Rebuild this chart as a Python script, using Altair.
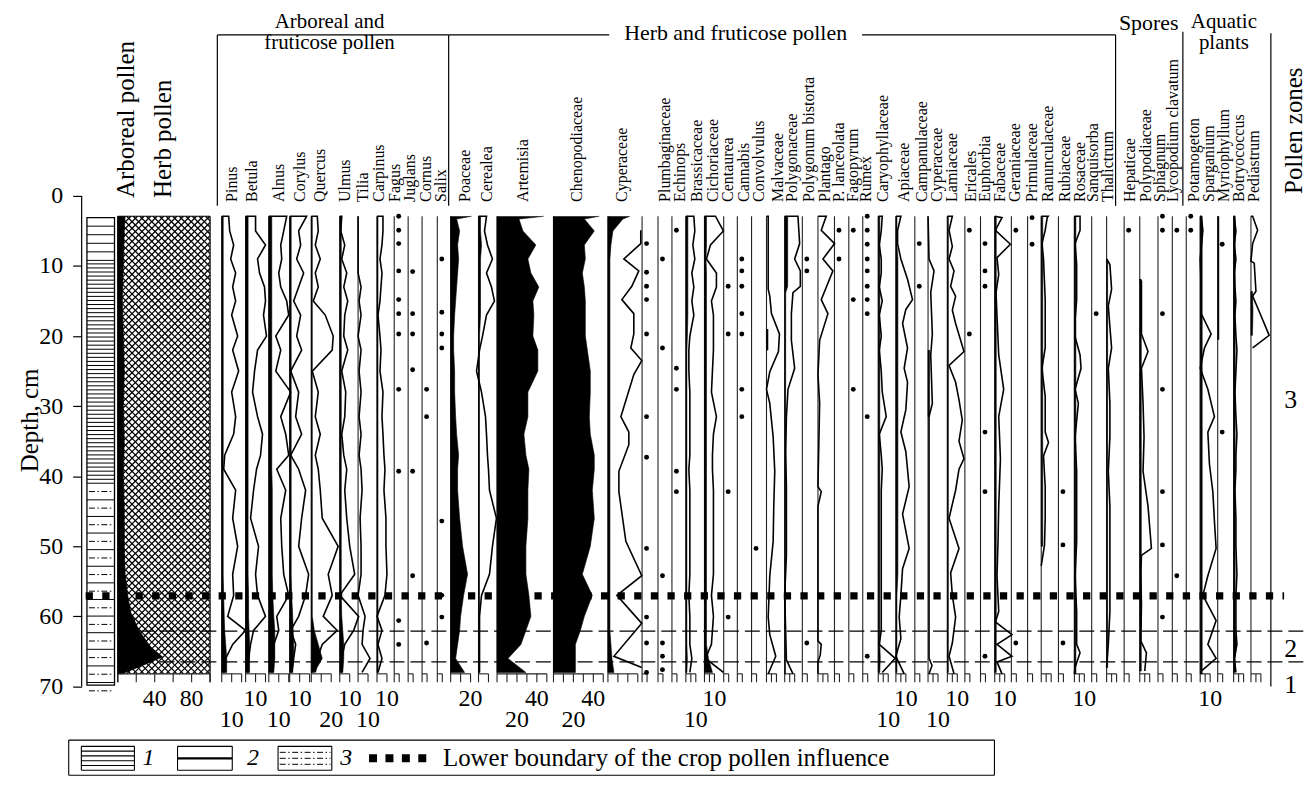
import altair as alt
import numpy as np
import pandas as pd

FONT = "Liberation Serif"

# ====================== values ======================
# common sample depths (cm)
G = [2.9, 5, 7, 9, 11, 13, 15, 17, 20, 22, 25, 28, 31.5, 34, 37, 39, 42, 46, 50, 54, 57, 60, 62, 64, 66, 68]
GF = [2.9, 3.3, 5, 7, 9, 11, 13, 15, 17, 20, 22, 25, 28, 31.5, 34, 37, 39, 42, 46, 50, 54, 57, 60, 62, 64, 66, 68]

# arboreal pollen sum (%), the rest is herb pollen
AP_DEPTH = [2.9, 5, 10, 15, 20, 25, 30, 35, 40, 45, 50, 54, 57, 59.4, 62, 64.4, 65.8, 67, 68.2]
AP_VALUE = [8, 7, 6, 5, 6, 7, 6, 7, 6, 7, 7, 8, 10.8, 14, 23, 36, 48.6, 27, 5]

# lithology units
LITHO_TOP = [3.1, 9.7, 41.0]
LITHO_BOTTOM = [9.7, 41.0, 69.8]
LITHO_TYPE = [2, 1, 3]

CROP_BOUNDARY = 57.06
ZONE_BOUNDS = [62.1, 66.5]
ZONE_NAMES = ["3", "2", "1"]

# ---- curves (exaggerated outline), % ----
PINUS = [7, 8, 12, 9, 14, 11, 14, 10, 16, 11, 17, 10, 14, 12, 3, 2, 14, 11, 16, 11, 12, 6, 24, 11, 4, 2]
BETULA = [10, 10, 20, 12, 14, 19, 20, 18, 21, 12, 9, 7, 12, 17, 15, 11, 8, 5, 13, 10, 12, 20, 8, 5, 3, 2]
ALNUS = [18, 15, 12, 13, 10, 12, 18, 20, 7, 12, 7, 22, 12, 17, 20, 8, 17, 12, 13, 15, 20, 8, 10, 5, 5, 3]
CORYLUS = [17, 9, 11, 7, 14, 9, 4, 11, 7, 12, 1, 9, 6, 12, 1, 9, 16, 12, 9, 19, 16, 9, 1, 6, 4, 2]
QUERCUS = [6, 7, 4, 9, 4, 7, 2, 14, 22, 21, 1, 7, 4, 9, 4, 7, 9, 11, 27, 17, 21, 12, 26, 11, 6, 4]
ULMUS = [2, 1, 5, 2, 7, 4, 8, 5, 4, 8, 2, 6, 5, 2, 4, 7, 5, 7, 10, 15, 0, 19, 14, 5, 2, 2]
TILIA = [0, 0, 0, 0, 0, 3, 1, 3, 0, 3, 1, 3, 1, 3, 1, 3, 4, 2, 3, 3, 0, 7, 5, 4, 12, 4]
CARPINUS = [6, 6, 5, 3, 5, 4, 3, 1, 3, 4, 3, 6, 5, 6, 7, 8, 7, 9, 9, 10, 8, 0, 5, 1, 5, 1]
CEREALEA = [8, 6, 9, 14, 8, 13, 16, 8, 4, 1, -2, 3, 7, 8, 9, 10, 11, 18, 14, 11, 3, 1, 1, 1, 1, 1]
CYPERACEAE_D = [4.9, 6.8, 9, 10.7, 12.9, 14.8, 16.8, 19.7, 21.7, 23.5, 25.5, 31.5, 33.7, 35.5, 39.3, 42.2,
                49.3, 54.2, 57, 61, 65.7, 67.3]
CYPERACEAE = [33, 33, 16, 31, 24, 14, 26, 26, 23, 34, 26, 13, 21, 21, 11, 11, 18, 34, 9, 34, 6, 34]
BRASSICACEAE = [8, 9, 7, 9, 6, 8, 6, 8, 4, 3, 3, 4, 4, 4, 4, 3, 4, 4, 4, 4, 3, 4, 4, 4, 6, 4]
CICHORIACEAE = [11, 19, 6, 2, 12, 12, 7, 9, 9, 9, 8, 7, 12, 9, 8, 8, 9, 9, 9, 9, 7, 9, 8, 7, 1, 19]
MALVACEAE_D = [2.9, 13.3, 14.3, 16.8, 19.7, 22.2, 25.1, 27.6, 29.6, 34.4, 39.3, 44.3, 49.3, 54.2, 60.1,
               62.6, 65.7, 68.2]
MALVACEAE = [1.7, 1.7, 3.3, 5, 13, 12, 3.3, 0, 3.3, 6.7, 8.3, 7.3, 6.7, 3.3, 1.7, 3.3, 9.3, 1.7]
POLYGONACEAE_D = [2.9, 6.8, 9, 10.7, 12.9, 13.8, 16.8, 20.6, 24.6, 27.6, 31.5, 36.5, 41.5, 46.4, 51.3,
                  57, 66.2, 68.2]
POLYGONACEAE = [13.3, 15, 10, 15.7, 15.7, 8.3, 6.7, 6.7, 10, 3.3, 1.7, 1, 1.7, 1.7, 1.7, 0, 1.7, 8.3]
PLANTAGO_D = [2.9, 4.9, 6.8, 9, 10.7, 14.8, 16.8, 20.6, 25.5, 29.6, 41.5, 42.2, 44.3, 63.5, 64, 65.5,
              66.5, 68.2]
PLANTAGO = [8.3, 3.3, 16.7, 5, 15, 3.3, 10, 1.7, 0, 1.7, 0, 3.3, 0, 0, 3.3, 2.3, 0, 0]
CARYOPHYLLACEAE = [4, 3, 1, 3, 3, 1, 4, 1, 3, 1, 3, 4, 8, 1, 3, 4, 3, 3, 3, 3, 3, 3, 3, 1, 17, 4]
APIACEAE_D = [2.9, 4.9, 6.8, 9, 11.9, 14.8, 16.2, 18.2, 21.7, 24.6, 26.6, 30.5, 33.7, 36.5, 41.5, 45.4,
              50.3, 53.2, 57, 60.1, 63.2, 65.7, 68.2]
APIACEAE = [5, 1.7, 1.7, 5, 11.7, 16.7, 10, 6.7, 11.7, 8.3, 11.7, 10, 5, 10, 13.3, 6.7, 13.3, 6.7, 5,
            3.3, 5, 0, 8.3]
CYPERACEAE2_D = [2.9, 9, 10.7, 13.8, 19.7, 22.7, 29.6, 31.5, 66, 67, 68.2]
CYPERACEAE2 = [0, 1, 6, 2.7, 4.3, 2.7, 4.3, 1, 1, 4, 1]
LAMIACEAE_D = [2.9, 4.9, 7.2, 9, 10.7, 12.9, 14.3, 16.3, 18.2, 22.2, 24.2, 26.6, 29.1, 32, 35, 37.5,
               39, 42, 46, 50.3, 53.8, 57, 60.1, 63.8, 65.7, 68.2]
LAMIACEAE = [5, 1.7, 5, 1.7, 6.7, 3.3, 8.3, 5, 8.3, 16.7, 1.7, 8.3, 11.7, 15, 11.7, 16.7, 11.7, 8.3,
             1.7, 11.7, 3.3, 5, 8.3, 5, 1.7, 6.7]
FABACEAE_D = [2.9, 3.1, 4.9, 6.9, 8.8, 11.2, 13.8, 17.2, 22.7, 27.6, 31.5, 37.5, 44.3, 49.3, 54.2,
              59.3, 60.8, 62.6, 64, 65.7, 66.5, 68.2]
FABACEAE = [0, 7.3, 0.7, 15.7, 2.3, 4, 1.3, 2.3, 4, 9, 4, 5.7, 4, 3.3, 2.3, 4, 0.7, 17.3, 2.3, 17.3,
            2.3, 7.3]
RANUNCULACEAE_D = [2.9, 3.1, 4.9, 6.8, 9, 14.8, 21.7, 24.6, 28.6, 33.7, 35.2, 37.1, 41.5, 45.9, 49.8, 52.8]
RANUNCULACEAE = [7, 6, 4, 0.7, 2.3, 4, 4, 0.7, 4, 4, 7.3, 2.3, 4, 4, 3.3, 0]
ROSACEAE_D = [2.9, 4.9, 6.8, 9.8, 12.2, 14.8, 17.7, 20.1, 22.7, 24.6, 27.6, 29.6, 34.4, 39.3, 44.3,
              49.3, 54.2, 59.3, 64, 65.2, 67.3, 68.2]
ROSACEAE = [5.7, 5.7, 0.7, 2.3, 2.3, 2.3, 0.7, 0.7, 5.7, 6.7, 0.7, 4, 0.7, 2.3, 2.3, 2.3, 0.7, 2.3,
            2.3, 5.7, 0.7, 0]
THALICTRUM_D = [9, 9.8, 13.3, 15.7, 18.7, 21.7, 24.6, 29.6, 34.4, 39.3, 44.3, 49.3, 54.2, 59.3, 64, 67.3]
THALICTRUM = [0, 3.3, 5, 1.7, 3.3, 5, 1.7, 3.3, 3.3, 1.7, 3.3, 3.3, 3.3, 3.3, 1.7, 0]
POLYPODIACEAE_D = [11.9, 12.2, 19.7, 22.2, 24.6, 29.6, 34.4, 39.3, 44.3, 50.3, 51.3, 53.8, 58.3, 63.5,
                   65.2, 67.8]
POLYPODIACEAE = [0, 1.7, 1.7, 8.3, 1.7, 3.3, 4.3, 3.3, 8.3, 11.7, 1.7, 1, 1.7, 1, 6.7, 5]
SPARGANIUM_D = [2.9, 4.9, 9, 12.9, 16.8, 19.7, 21.7, 24.6, 27.6, 31.5, 33.7, 38.3, 42.2, 46.4, 50.3,
                54.2, 57, 60.6, 64, 66, 67.8]
SPARGANIUM = [1, 2.7, 0, 1, 1, 11, 4.3, 0, 7.7, 14.3, 7.7, 9.3, 12.7, 14.3, 16, 7.7, 2.7, 16, 7.7, 16, 1]
BOTRYOCOCCUS = [0.7, 2.3, 0.7, 2.3, 0.7, 1.3, 2.3, 1.3, 2.3, 3.3, 2.3, 1.3, 2.3, 3.3, 2.3, 2.3, 1.3,
                2.3, 2.3, 3.3, 2.3, 2.3, 2.3, 3.3, 0.7, 2.3]
PEDIASTRUM_D = [2.9, 4.9, 6.8, 9.3, 9.6, 13.6, 14.3, 16.5, 19.9, 21.7]
PEDIASTRUM = [1.7, 6.7, 1.7, 0, 3.3, 5, 1.7, 8.3, 18.3, 1.7]

# ---- black silhouettes (true %) ----
PINUS_F = [1.5, 1.5, 1.5, 1.5, 1.5, 1.5, 1.5, 1.5, 1.5, 1.5,
           1.5, 1.5, 1.5, 1.5, 1.5, 1.5, 1.5, 1.5, 1.5, 1.5,
           2, 2.5, 3, 4, 5, 5]
BETULA_F = [2.5, 2.5, 2.5, 2.5, 2.5, 2.5, 2.5, 2.5, 2.5, 2.5,
            2.5, 2.5, 2.5, 2.5, 2.5, 2.5, 2.5, 2.5, 2.5, 2.5,
            3, 3, 3.5, 4, 4, 4]
ALNUS_F = [3, 3, 3, 3, 3, 3, 3, 3, 3, 3,
           3, 3, 3, 3, 3, 3, 3.5, 3.5, 3.5, 3.5,
           4, 5, 6, 6, 6, 5]
CORYLUS_F = [1.5, 1.5, 1.5, 1.5, 1.5, 1.5, 1.5, 1.5, 1.5, 1.5,
             1.5, 1.5, 1.5, 1.5, 1.5, 1.5, 1.5, 1.5, 1.5, 1.5,
             2, 3, 3.5, 4, 4, 3]
QUERCUS_F = [1, 1, 1, 1, 1, 1, 1, 1, 1, 1,
             1, 1, 1, 1, 1, 1, 1, 1, 1, 1,
             1, 1, 3, 7, 11, 3]
ULMUS_F = [1.5, 1.5, 1.5, 1.5, 1.5, 1.5, 1.5, 1.5, 1.5, 1.5,
           1.5, 1.5, 1.5, 1.5, 1.5, 1.5, 1.5, 1.5, 1.5, 1.5,
           1.5, 2, 3, 4, 4, 3]
CARPINUS_F = [1, 1, 1, 1, 1, 1, 1, 1, 1, 1,
              1, 1, 1, 1, 1, 1, 1, 1, 1, 1,
              1, 1, 1, 1, 1, 1]
POACEAE_F = [21, 6, 9, 7, 8, 7, 6, 5, 4, 3, 3, 4, 4, 5, 6, 8, 7, 7, 9, 12, 17, 13, 10, 9, 7, 5, 14]
ARTEMISIA_F = [47, 22, 26, 39, 31, 34, 42, 36, 37, 36, 41, 41, 31, 31, 27, 29, 32, 31, 31, 29, 29, 32,
               34, 29, 24, 11, 29]
CHENOPODIACEAE_F = [46, 31, 41, 31, 32, 29, 31, 32, 32, 32, 34, 37, 37, 36, 37, 41, 41, 39, 41, 37, 29,
                    39, 31, 27, 22, 22, 22]
CYPERACEAE_F = [22, 15, 5, 3, 2, 2, 2, 2, 2, 2, 2, 2, 2, 2, 2, 2, 2, 2, 2, 2, 2, 2, 2, 2, 3, 4, 6]
CEREALEA_F = [2, 2, 3, 2, 2, 2, 2, 2, 1, 1,
              1, 1, 1, 1, 1, 1, 1, 1, 1, 1,
              1, 1, 1, 1, 1, 1]
BRASSICACEAE_F = [2, 2, 2, 2, 2, 2, 2, 2, 1.5, 1,
                  1, 1, 1, 1, 1, 1, 1, 1, 1, 1,
                  1, 1, 1, 1, 1.5, 1]
CICHORIACEAE_F = [2, 2, 2, 1.5, 2, 2, 2, 2, 2, 2,
                  2, 2, 2, 2, 2, 2, 2, 2, 2, 2,
                  2, 2, 2, 2, 4, 8]
CARYOPHYLLACEAE_F = [1.5, 1.5, 1.5, 1.5, 1.5, 1.5, 1.5, 1.5, 1.5, 1.5,
                     1.5, 1.5, 1.5, 1.5, 1.5, 1.5, 1.5, 1.5, 1.5, 1.5,
                     1.5, 1.5, 1.5, 1.5, 2, 1.5]
APIACEAE_F = [1, 1, 1, 2, 2, 2, 2, 2, 2, 2,
              2, 2, 2, 2, 2, 2, 2, 2, 2, 2,
              1, 1, 1, 1, 1, 1]
LAMIACEAE_F = [1, 1, 1, 1, 1, 1, 1, 1, 1, 1,
               1, 1, 1, 1, 1, 1, 1, 1, 1, 1,
               1, 1, 1, 1, 1, 1]
FABACEAE_F = [1.5, 1.5, 1.5, 1.5, 1.5, 1.5, 1.5, 1.5, 1.5, 1.5,
              1.5, 1.5, 1.5, 1.5, 1.5, 1.5, 1.5, 1.5, 1.5, 1.5,
              1.5, 1.5, 1.5, 1.5, 1.5, 1.5]
BOTRYOCOCCUS_F = [1.5, 1.5, 1.5, 1.5, 1.5, 1.5, 1.5, 1.5, 1.5, 1.5,
                  1.5, 1.5, 1.5, 1.5, 1.5, 1.5, 1.5, 1.5, 1.5, 1.5,
                  1.5, 1.5, 1.5, 3, 1.5, 1.5]

# ---- single finds (dots): depths ----
DOTS = {
    "Fagus": [2.9, 4.9, 6.8, 10.7, 14.8, 16.8, 19.7, 27.6, 39.3, 60.6, 64],
    "Juglans": [10.8, 16.8, 19.7, 24.8, 39.3, 54.2],
    "Cornus": [27.6, 31.5, 63.8],
    "Salix": [9, 16.6, 19.7, 21.7, 46.4, 57, 60.1],
    "extra": [6.8, 10.9, 12.9, 14.8, 19.7, 31.5, 37.3, 50.3, 60.1, 63.8, 68],
    "Plumbaginaceae": [9, 21.7, 54.2, 63.8, 65.7, 67.6],
    "Echinops": [4.9, 24.6, 27.6, 39.3, 42.2],
    "Centaurea": [12.9, 19.7, 42.2, 60.1],
    "Cannabis": [9, 10.7, 12.9, 16.8, 19.7, 27.6, 31.5],
    "Convolvulus": [50.3],
    "Polygonum bistorta": [9, 10.7, 63.8],
    "P. lanceolata": [4.9, 9],
    "Fagopyrum": [4.9, 14.8, 27.6],
    "Rumex": [2.9, 4.9, 6.9, 9, 10.7, 12.9, 14.8, 16.8, 31.5, 65.7],
    "Campanulaceae": [6.8, 12.9],
    "Ericales": [4.9, 19.7],
    "Euphorbia": [6.8, 10.7, 12.9, 33.7, 42.2, 65.7],
    "Geraniaceae": [4.9, 63.8],
    "Primulaceae": [3.1, 6.9],
    "Rubiaceae": [42.2, 49.8, 63.8],
    "Sanquisorba": [16.8],
    "Hepaticae": [4.9],
    "Sphagnum": [2.9, 4.9, 16.8, 27.6, 42.2, 49.8, 60.1],
    "Lycopodium clavatum": [4.9, 54.2],
    "Potamogeton": [2.9, 4.9],
    "Myriophyllum": [6.9, 33.7],
}

LINES = {
    "Pinus": (G, PINUS), "Betula": (G, BETULA), "Alnus": (G, ALNUS), "Corylus": (G, CORYLUS),
    "Quercus": (G, QUERCUS), "Ulmus": (G, ULMUS), "Tilia": (G, TILIA), "Carpinus": (G, CARPINUS),
    "Cerealea": (G, CEREALEA), "Cyperaceae": (CYPERACEAE_D, CYPERACEAE),
    "Brassicaceae": (G, BRASSICACEAE), "Cichoriaceae": (G, CICHORIACEAE),
    "Malvaceae": (MALVACEAE_D, MALVACEAE), "Polygonaceae": (POLYGONACEAE_D, POLYGONACEAE),
    "Plantago": (PLANTAGO_D, PLANTAGO), "Caryophyllaceae": (G, CARYOPHYLLACEAE),
    "Apiaceae": (APIACEAE_D, APIACEAE), "Cyperaceae2": (CYPERACEAE2_D, CYPERACEAE2),
    "Lamiaceae": (LAMIACEAE_D, LAMIACEAE), "Fabaceae": (FABACEAE_D, FABACEAE),
    "Ranunculaceae": (RANUNCULACEAE_D, RANUNCULACEAE), "Rosaceae": (ROSACEAE_D, ROSACEAE),
    "Thalictrum": (THALICTRUM_D, THALICTRUM), "Polypodiaceae": (POLYPODIACEAE_D, POLYPODIACEAE),
    "Sparganium": (SPARGANIUM_D, SPARGANIUM), "Botryococcus": (G, BOTRYOCOCCUS),
    "Pediastrum": (PEDIASTRUM_D, PEDIASTRUM),
}
FILLS = {
    "Pinus": (G, PINUS_F), "Betula": (G, BETULA_F), "Alnus": (G, ALNUS_F), "Corylus": (G, CORYLUS_F),
    "Quercus": (G, QUERCUS_F), "Ulmus": (G, ULMUS_F), "Carpinus": (G, CARPINUS_F),
    "Poaceae": (GF, POACEAE_F), "Artemisia": (GF, ARTEMISIA_F),
    "Chenopodiaceae": (GF, CHENOPODIACEAE_F), "Cyperaceae": (GF, CYPERACEAE_F),
    "Cerealea": (G, CEREALEA_F), "Brassicaceae": (G, BRASSICACEAE_F), "Cichoriaceae": (G, CICHORIACEAE_F),
    "Caryophyllaceae": (G, CARYOPHYLLACEAE_F), "Apiaceae": (G, APIACEAE_F), "Lamiaceae": (G, LAMIACEAE_F),
    "Fabaceae": (G, FABACEAE_F), "Botryococcus": (G, BOTRYOCOCCUS_F),
    "Polygonaceae": ([2.9, 12.9, 13.8, 68.2], [3, 3, 1, 0.7]),
    "Ranunculaceae": ([2.9, 50.0], [1.5, 1.5]),
    "Rosaceae": ([2.9, 68.2], [1.5, 1.5]),
    "Thalictrum": ([9, 67.3], [1, 1]),
    "Polypodiaceae": ([11.9, 67.8], [1.5, 1.5]),
    "Sparganium": ([2.9, 68.2], [2, 2]),
    "Myriophyllum": ([2.9, 20.5], [1.2, 1.2]),
    "Pediastrum": ([13.6, 16.5, 19.9], [1.5, 2, 1.5]),
    "Cyperaceae2": ([22, 31.5], [1.5, 1.5]),
    "Malvaceae": ([19, 22], [1.5, 1.5]),
}
NO_START = {"Cyperaceae", "Thalictrum", "Polypodiaceae"}

TAXA = ["Pinus", "Betula", "Alnus", "Corylus", "Quercus", "Ulmus", "Tilia", "Carpinus", "Fagus", "Juglans",
        "Cornus", "Salix",
        "Poaceae", "Cerealea", "Artemisia", "Chenopodiaceae", "Cyperaceae", "extra", "Plumbaginaceae",
        "Echinops", "Brassicaceae", "Cichoriaceae", "Centaurea", "Cannabis", "Convolvulus", "Malvaceae",
        "Polygonaceae", "Polygonum bistorta", "Plantago", "P. lanceolata", "Fagopyrum", "Rumex",
        "Caryophyllaceae", "Apiaceae", "Campanulaceae", "Cyperaceae2", "Lamiaceae", "Ericales", "Euphorbia",
        "Fabaceae", "Geraniaceae", "Primulaceae", "Ranunculaceae", "Rubiaceae", "Rosaceae", "Sanquisorba",
        "Thalictrum",
        "Hepaticae", "Polypodiaceae", "Sphagnum", "Lycopodium clavatum",
        "Potamogeton", "Sparganium", "Myriophyllum", "Botryococcus", "Pediastrum"]
LABEL_TEXT = {"Cyperaceae2": "Cyperaceae", "extra": ""}

# scale-bar tick labels: (taxon, value, row)
SCALE_LABELS = [("AP", 40, 0), ("AP", 80, 0),
                ("Pinus", 10, 1), ("Betula", 10, 0), ("Alnus", 10, 1), ("Corylus", 10, 0),
                ("Quercus", 20, 1), ("Ulmus", 10, 0), ("Tilia", 10, 1), ("Carpinus", 10, 0),
                ("Poaceae", 20, 0), ("Artemisia", 20, 1), ("Artemisia", 40, 0),
                ("Chenopodiaceae", 20, 1), ("Chenopodiaceae", 40, 0),
                ("Brassicaceae", 10, 1), ("Cichoriaceae", 10, 0),
                ("Caryophyllaceae", 10, 1), ("Apiaceae", 10, 0), ("Cyperaceae2", 10, 1),
                ("Lamiaceae", 10, 0), ("Fabaceae", 10, 0), ("Rosaceae", 10, 0), ("Sparganium", 10, 0)]

# ====================== layout (page pixels) ======================
PAD_L = 74
W, H = 1230, 770
X0 = 8 + PAD_L
Y0, PXCM = 195.0, 7.04

BASE_X = [222.7, 246.7, 270.0, 291.0, 312.7, 341.3, 359.7, 378.7, 396.0, 410.0, 424.0, 439.3,
          452.7, 480.7, 499.3, 556.0, 610.7, 645.0, 661.0, 675.0, 689.0, 707.7, 727.0, 740.7, 755.0,
          770.0, 788.3, 806.0, 821.7, 838.3, 852.7, 866.7, 882.3, 900.0, 919.0, 932.3, 951.7, 969.3,
          985.0, 999.3, 1016.0, 1032.3, 1046.0, 1063.3, 1079.3, 1096.7, 1111.7,
          1129.3, 1145.0, 1163.3, 1177.7,
          1191.7, 1205.7, 1223.3, 1239.3, 1256.7]
LABEL_X = [233.3, 253.3, 280.0, 301.7, 321.7, 346.7, 365.0, 381.0, 397.0, 412.0, 428.3, 442.7,
           466.7, 489.3, 525.0, 579.3, 625.0, 0, 668.3, 683.3, 700.0, 716.7, 731.7, 747.3, 762.7,
           781.7, 796.0, 812.7, 828.3, 843.3, 856.7, 870.0, 887.0, 908.3, 926.7, 941.7, 956.7, 975.0,
           990.0, 1005.0, 1020.0, 1036.7, 1053.3, 1070.0, 1085.0, 1098.3, 1113.3,
           1135.0, 1151.7, 1165.0, 1178.3,
           1200.0, 1215.0, 1230.0, 1245.0, 1260.0]
AP_L, AP_R = 118.3, 211.0
LITH_L, LITH_R = 87.3, 115.0
TOP_D, BAR_D, TICK_D = 2.9, 68.2, 69.4


def xd(xp):
    return xp - X0


def dd(yp):
    return (yp - Y0) / PXCM


def py(d):
    return Y0 + PXCM * d


BASE = dict(zip(TAXA, BASE_X))
APK = (AP_R - AP_L) / 100.0

XSC = alt.Scale(domain=[0, W], nice=False, zero=False)
YSC = alt.Scale(domain=[dd(8), dd(8 + H)], reverse=True, nice=False, zero=False)
YAXIS = alt.Axis(values=[0, 10, 20, 30, 40, 50, 60, 70], domain=False, grid=False, tickSize=9,
                 tickWidth=1.2, tickColor="black", labelFont=FONT, labelFontSize=24, labelColor="black",
                 labelPadding=10, title="Depth, cm", titleFont=FONT, titleFontSize=25,
                 titleFontWeight="normal", titleColor="black", titleAngle=270, titleX=-52, titleY=412,
                 titleAlign="center", titleBaseline="middle")


def X(f):
    return alt.X(f, scale=XSC, axis=None)


def Y(f):
    return alt.Y(f, scale=YSC, axis=YAXIS)


def seg_df(segs):
    return pd.DataFrame(segs, columns=["x", "y", "x2", "y2"])


def rules(segs, **mk):
    return alt.Chart(seg_df(segs)).mark_rule(**mk).encode(
        x=X("x:Q"), x2=alt.X2("x2"), y=Y("y:Q"), y2=alt.Y2("y2"))


def texts(rows, **mk):
    df = pd.DataFrame(rows, columns=["x", "y", "t"])
    return alt.Chart(df).mark_text(**mk).encode(x=X("x:Q"), y=Y("y:Q"), text=alt.Text("t:N"))


def pseg(x1, y1, x2, y2):
    """segment given in page pixels -> data coordinates"""
    return (xd(x1), dd(y1), xd(x2), dd(y2))


def polygon_rows(key, ds, vs, base_page, k=1.0):
    """closed outline: value side top->bottom, then baseline bottom->top"""
    rows = []
    n = len(ds)
    for i, (d, v) in enumerate(zip(ds, vs)):
        rows.append({"taxon": key, "i": i, "d": d, "x": xd(base_page + v * k)})
    for j, d in enumerate(reversed(list(ds))):
        rows.append({"taxon": key, "i": n + j, "d": d, "x": xd(base_page)})
    return rows


def filled_polygons(rows):
    df = pd.DataFrame(rows)
    return alt.Chart(df).mark_line(filled=True, color="black", stroke="black", strokeWidth=0.6,
                                   opacity=1).encode(
        x=X("x:Q"), y=Y("d:Q"), detail="taxon:N", order="i:Q")


layers = []

# ---------- depth axis line (also carries the axis) ----------
axis_df = pd.DataFrame({"x": [0.0], "y": [0.0], "x2": [0.0], "y2": [70.0]})
layers.append(alt.Chart(axis_df).mark_rule(color="black", strokeWidth=1.2).encode(
    x=X("x:Q"), x2=alt.X2("x2"), y=Y("y:Q"), y2=alt.Y2("y2")))

# ---------- herb pollen cross-hatch ----------
hx0, hx1, hy0, hy1 = AP_L, AP_R, py(TOP_D), py(BAR_D)
hat = []
S = 6.6
hh = hy1 - hy0
for sign in (1, -1):
    cs = np.arange(hx0 - hh, hx1, S) if sign > 0 else np.arange(hx0, hx1 + hh, S)
    for c in cs:
        if sign > 0:
            ya, yb = hy0 + (hx0 - c), hy0 + (hx1 - c)
        else:
            ya, yb = hy0 + (c - hx1), hy0 + (c - hx0)
        lo, hi = max(hy0, ya), min(hy1, yb)
        if hi > lo:
            hat.append(pseg(c + sign * (lo - hy0), lo, c + sign * (hi - hy0), hi))
layers.append(rules(hat, color="black", strokeWidth=1.25))

# ---------- arboreal pollen (black) ----------
layers.append(filled_polygons(polygon_rows("AP", AP_DEPTH, AP_VALUE, AP_L, APK)))
layers.append(rules([(xd(AP_L), TOP_D, xd(AP_L), TICK_D), (xd(AP_R), TOP_D, xd(AP_R), TICK_D),
                     (xd(AP_L), TOP_D, xd(AP_R), TOP_D)], color="black", strokeWidth=1.2))

# ---------- lithology column ----------
lith_box = pd.DataFrame({"x": [xd(LITH_L)], "x2": [xd(LITH_R)], "y": [LITHO_TOP[0]], "y2": [LITHO_BOTTOM[-1]]})
layers.append(alt.Chart(lith_box).mark_rect(fill="white", stroke="black", strokeWidth=1.3).encode(
    x=X("x:Q"), x2=alt.X2("x2"), y=Y("y:Q"), y2=alt.Y2("y2")))
solid, dashdot = [], []
for top, bot, typ in zip(LITHO_TOP, LITHO_BOTTOM, LITHO_TYPE):
    if typ == 2:
        step = 1.22
        for d in np.arange(top + step, bot - 0.2, step):
            solid.append((xd(LITH_L), d, xd(LITH_R), d))
    elif typ == 1:
        step = 0.58
        for d in np.arange(top, bot - 0.1, step):
            solid.append((xd(LITH_L), d, xd(LITH_R), d))
    else:
        step = 2.37
        for d in np.arange(top, bot - 0.3, step):
            solid.append((xd(LITH_L), d, xd(LITH_R), d))
            dashdot.append((xd(LITH_L + 2), d + step / 2, xd(LITH_R - 2), d + step / 2))
layers.append(rules(solid, color="black", strokeWidth=1))
layers.append(rules(dashdot, color="black", strokeWidth=1, strokeDash=[6, 2.5, 1.5, 2.5]))

# ---------- baselines and scale bars ----------
base_segs, bar_segs = [], []
for k in TAXA:
    b = BASE[k]
    base_segs.append((xd(b), TOP_D, xd(b), TICK_D))
    if k in ("Artemisia", "Chenopodiaceae"):
        ticks = [0, 10, 20, 30, 40, 50]
    elif k == "Cyperaceae":
        ticks = [0, 10, 20, 30]
    elif k in ("Pinus", "Betula", "Alnus", "Corylus", "Quercus", "Poaceae"):
        ticks = [0, 10, 20]
    elif k in ("Ulmus", "Tilia", "Carpinus", "Cerealea"):
        ticks = [0, 10]
    elif k in LINES:
        ticks = [0, 5, 10]
    else:
        ticks = [0, 5]
    bar_segs.append((xd(b), BAR_D, xd(b + ticks[-1]), BAR_D))
    for t in ticks[1:]:
        bar_segs.append((xd(b + t), BAR_D, xd(b + t), TICK_D))
for t in range(0, 101, 20):
    bar_segs.append((xd(AP_L + t * APK), BAR_D, xd(AP_L + t * APK), TICK_D))
bar_segs.append((xd(AP_L), BAR_D, xd(AP_R), BAR_D))
layers.append(rules(base_segs, color="#222222", strokeWidth=1.1))
layers.append(rules(bar_segs, color="#222222", strokeWidth=1.1))

# ---------- silhouettes ----------
frows = []
for k, (ds, vs) in FILLS.items():
    frows += polygon_rows(k, ds, vs, BASE[k])
layers.append(filled_polygons(frows))

# ---------- exaggeration curves ----------
lrows = []
for k, (ds, vs) in LINES.items():
    pts = list(zip(ds, vs))
    if k not in NO_START:
        pts = [(ds[0], 0)] + pts
    for i, (d, v) in enumerate(pts):
        lrows.append({"taxon": k, "i": i, "d": d, "x": xd(BASE[k] + v)})
layers.append(alt.Chart(pd.DataFrame(lrows)).mark_line(color="black", strokeWidth=1.6).encode(
    x=X("x:Q"), y=Y("d:Q"), detail="taxon:N", order="i:Q"))

# ---------- dots ----------
drows = []
for k, ds in DOTS.items():
    for d in ds:
        drows.append({"taxon": k, "d": d, "x": xd(BASE[k] + 4.5)})
layers.append(alt.Chart(pd.DataFrame(drows)).mark_circle(size=24, color="black", opacity=1).encode(
    x=X("x:Q"), y=Y("d:Q")))

# ---------- zone boundaries & crop-pollen boundary ----------
layers.append(rules([(xd(AP_L), z, xd(1312), z) for z in ZONE_BOUNDS], color="black", strokeWidth=1.1,
                    strokeDash=[15, 6]))
layers.append(rules([(xd(86), CROP_BOUNDARY, xd(1290), CROP_BOUNDARY)], color="black", strokeWidth=7.3,
                    strokeDash=[7.3, 9.4], strokeCap="butt"))

# ---------- header frame lines ----------
hdr = [pseg(218.3, 33.3, 450.7, 33.3), pseg(218.3, 33.3, 218.3, 205), pseg(450.7, 33.3, 450.7, 205),
       pseg(450.7, 33.3, 612, 33.3), pseg(866, 33.3, 1120.7, 33.3), pseg(1120.7, 33.3, 1120.7, 205),
       pseg(1188.3, 30, 1188.3, 205), pseg(1276.7, 31.7, 1276.7, py(70))]
layers.append(rules(hdr, color="black", strokeWidth=1.2))

# ---------- texts ----------
lab_rows = [(xd(lx), dd(201), LABEL_TEXT.get(k, k)) for k, lx in zip(TAXA, LABEL_X) if LABEL_TEXT.get(k, k)]
layers.append(texts(lab_rows, angle=270, align="left", baseline="middle", font=FONT, fontSize=16,
                    color="black"))
layers.append(texts([(xd(126.7), dd(197), "Arboreal pollen"), (xd(163.3), dd(197), "Herb pollen"),
                     (xd(1300), dd(193), "Pollen zones")],
                    angle=270, align="left", baseline="middle", font=FONT, fontSize=25, color="black"))
layers.append(texts([(xd(739), dd(38), "Herb and fruticose pollen"), (xd(1154), dd(28), "Spores")],
                    align="center", baseline="alphabetic", font=FONT, fontSize=22, color="black"))
# two-line group titles
layers.append(texts([(xd(331), dd(9), "Arboreal and\nfruticose pollen")],
                    align="center", baseline="top", lineBreak="\n", lineHeight=21, font=FONT, fontSize=21,
                    color="black"))
layers.append(texts([(xd(1229.5), dd(9), "Aquatic\nplants")],
                    align="center", baseline="top", lineBreak="\n", lineHeight=21, font=FONT, fontSize=21,
                    color="black"))
zrows = [(xd(1296.7), dd(400), ZONE_NAMES[0]), (xd(1296.7), dd(650), ZONE_NAMES[1]),
         (xd(1296.7), dd(686.7), ZONE_NAMES[2])]
layers.append(texts(zrows, align="center", baseline="middle", font=FONT, fontSize=26, color="black"))
srows = []
for k, v, row in SCALE_LABELS:
    xp = AP_L + v * APK if k == "AP" else BASE[k] + v
    srows.append((xd(xp), dd(700 if row == 0 else 721.7), str(v)))
layers.append(texts(srows, align="center", baseline="middle", font=FONT, fontSize=24, color="black"))

# ---------- legend ----------
LB_T, LB_B, IT_T, IT_B, IT_C = 741.7, 777.0, 748.0, 772.0, 760.0
leg = [pseg(69, LB_T, 999, LB_T), pseg(69, LB_B, 999, LB_B), pseg(69, LB_T, 69, LB_B), pseg(999, LB_T, 999, LB_B)]
for (a, b) in [(81.7, 135.0), (178.3, 233.3), (279.3, 333.3)]:
    leg += [pseg(a, IT_T, b, IT_T), pseg(a, IT_B, b, IT_B), pseg(a, IT_T, a, IT_B), pseg(b, IT_T, b, IT_B)]
for yy in (752.8, 757.6, 762.4, 767.2):
    leg.append(pseg(81.7, yy, 135.0, yy))
layers.append(rules(leg, color="black", strokeWidth=1.1))
layers.append(rules([pseg(178.3, IT_C, 233.3, IT_C)], color="black", strokeWidth=2.2))
layers.append(rules([pseg(281, yy, 332, yy) for yy in (754, 760, 766)], color="black", strokeWidth=1,
                    strokeDash=[6, 2.5, 1.5, 2.5]))
layers.append(rules([pseg(370.7, IT_C, 428.3, IT_C)], color="black", strokeWidth=8, strokeDash=[8, 8.5],
                    strokeCap="butt"))
layers.append(texts([(xd(143), dd(IT_C), "1"), (xd(248), dd(IT_C), "2"), (xd(341.7), dd(IT_C), "3")],
                    align="left", baseline="middle", font=FONT, fontSize=24, fontStyle="italic",
                    color="black"))
layers.append(texts([(xd(445), dd(IT_C), "Lower boundary of the crop pollen influence")],
                    align="left", baseline="middle", font=FONT, fontSize=25, color="black"))

chart = alt.layer(*layers).properties(
    width=W, height=H,
    padding={"left": PAD_L, "top": 0, "right": 0, "bottom": 0},
    autosize=alt.AutoSizeParams(type="none"),
    background="white",
).configure_view(stroke=None)

chart.save("out.html", embed_options={"renderer": "svg", "actions": False})
